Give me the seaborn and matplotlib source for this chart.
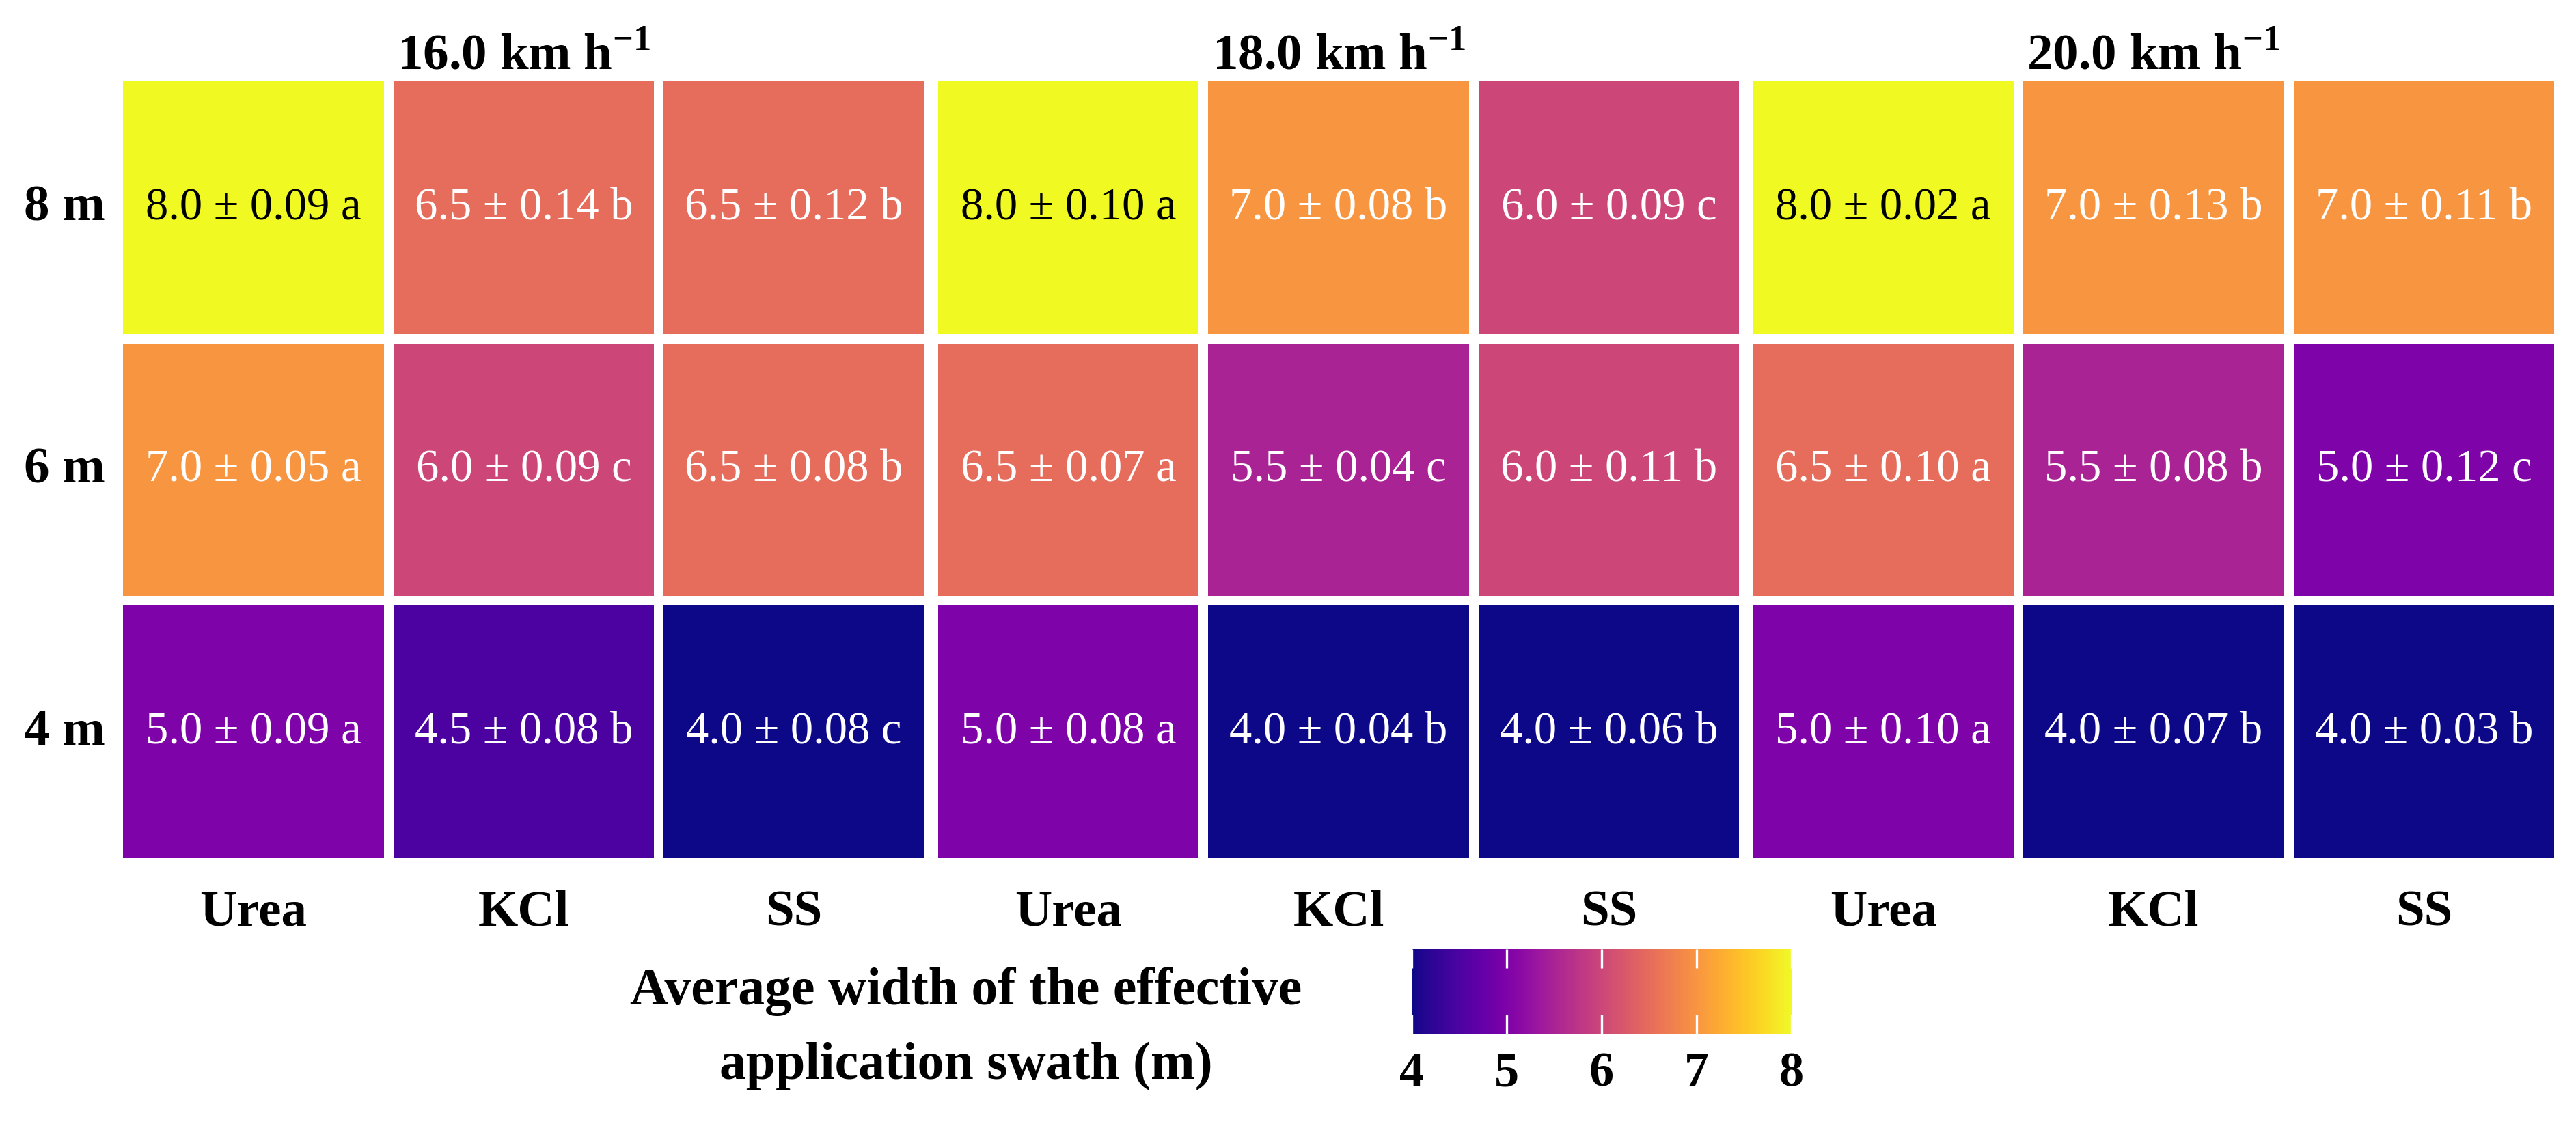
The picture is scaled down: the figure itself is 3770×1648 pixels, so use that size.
import numpy as np
import pandas as pd
import matplotlib
matplotlib.use("Agg")
import matplotlib.pyplot as plt
import seaborn as sns

# ---- data ----
speeds = ["16.0", "18.0", "20.0"]
fertilizers = ["Urea", "KCl", "SS"]
swaths = ["8 m", "6 m", "4 m"]

# means: rows = swaths, cols = fertilizers, one block per speed
means_16 = [[8.0, 6.5, 6.5], [7.0, 6.0, 6.5], [5.0, 4.5, 4.0]]
means_18 = [[8.0, 7.0, 6.0], [6.5, 5.5, 6.0], [5.0, 4.0, 4.0]]
means_20 = [[8.0, 7.0, 7.0], [6.5, 5.5, 5.0], [5.0, 4.0, 4.0]]

sd_16 = [[0.09, 0.14, 0.12], [0.05, 0.09, 0.08], [0.09, 0.08, 0.08]]
sd_18 = [[0.10, 0.08, 0.09], [0.07, 0.04, 0.11], [0.08, 0.04, 0.06]]
sd_20 = [[0.02, 0.13, 0.11], [0.10, 0.08, 0.12], [0.10, 0.07, 0.03]]

letters_16 = [["a", "b", "b"], ["a", "c", "b"], ["a", "b", "c"]]
letters_18 = [["a", "b", "c"], ["a", "c", "b"], ["a", "b", "b"]]
letters_20 = [["a", "b", "b"], ["a", "b", "c"], ["a", "b", "b"]]

cbar_label = "Average width of the effective\napplication swath (m)"
cbar_ticks = [4, 5, 6, 7, 8]

groups = [(means_16, sd_16, letters_16),
          (means_18, sd_18, letters_18),
          (means_20, sd_20, letters_20)]

# ---- style ----
sns.set_style("white")
plt.rcParams["font.family"] = ["Liberation Serif", "DejaVu Serif"]
plt.rcParams["mathtext.fontset"] = "custom"
plt.rcParams["mathtext.rm"] = "Liberation Serif"
plt.rcParams["mathtext.bf"] = "Liberation Serif:bold"
plt.rcParams["text.color"] = "black"
plt.rcParams["xtick.labelcolor"] = "black"
plt.rcParams["ytick.labelcolor"] = "black"
plt.rcParams["axes.titlecolor"] = "black"

fig = plt.figure(figsize=(18.85, 8.245), dpi=200)

left, right = 0.0459, 0.9934
bottom, top = 0.2335, 0.9315
gap = 0.0016
w = (right - left - 2 * gap) / 3
h = top - bottom

axes = []
for i, (m, sd, lt) in enumerate(groups):
    ax = fig.add_axes([left + i * (w + gap), bottom, w, h])
    df = pd.DataFrame(m, index=swaths, columns=fertilizers)
    labels = np.array([[f"{m[r][c]:.1f} \u00b1 {sd[r][c]:.2f} {lt[r][c]}"
                        for c in range(3)] for r in range(3)])
    sns.heatmap(df, ax=ax, cmap="plasma", vmin=4, vmax=8, cbar=False,
                annot=labels, fmt="", linewidths=5, linecolor="white",
                annot_kws={"fontsize": 24, "family": "Liberation Serif"})
    # text colour: black on the brightest cells, white elsewhere
    flat = np.array(m).ravel()
    for t, v in zip(ax.texts, flat):
        t.set_color("black" if v >= 7.5 else "white")
    ax.set_title(f"{speeds[i]} km h$^{{\\mathbf{{-1}}}}$", fontsize=27,
                 fontweight="bold", pad=4, color="black")
    ax.set_xlabel("")
    ax.set_ylabel("")
    ax.tick_params(axis="both", length=0)
    ax.tick_params(axis="x", pad=14)
    for lab in ax.get_xticklabels():
        lab.set_fontsize(27)
        lab.set_fontweight("bold")
        lab.set_color("black")
    if i == 0:
        ax.set_yticklabels(swaths, rotation=0, fontsize=27, fontweight="bold",
                           color="black")
        ax.tick_params(axis="y", pad=7)
    else:
        ax.set_yticks([])
    axes.append(ax)

# ---- colorbar ----
cax = fig.add_axes([0.548, 0.0818, 0.1475, 0.0752])
cb = fig.colorbar(axes[0].collections[0], cax=cax, orientation="horizontal")
cb.outline.set_visible(False)
cb.set_ticks(cbar_ticks)
cb.set_ticklabels([str(t) for t in cbar_ticks])
cax.set_axisbelow(False)
cax.tick_params(axis="x", direction="in", length=10, width=1.2,
                color="white", top=True, bottom=True, labelsize=26, pad=9,
                labelcolor="black")
for lab in cax.get_xticklabels():
    lab.set_fontweight("bold")

fig.text(0.375, 0.087, cbar_label, ha="center", va="center",
         multialignment="center", fontsize=28, fontweight="bold",
         linespacing=1.7, color="black")

fig.savefig("out.png", dpi=200, facecolor="white")
